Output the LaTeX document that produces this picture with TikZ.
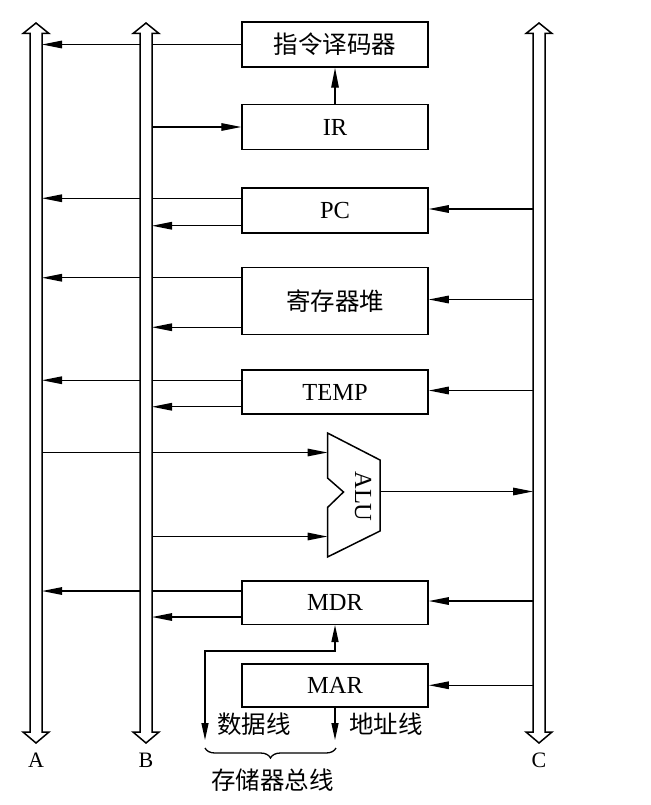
\documentclass[tikz,border=0pt]{standalone}
\usepackage{fontspec}
\setmainfont{Liberation Serif}
\newfontfamily\cjk{Noto Sans CJK SC}
\usetikzlibrary{arrows.meta, positioning, calc, decorations.pathreplacing}
\tikzset{
    reg/.style={rectangle, draw, line width=1.5pt, minimum width=186pt,
        minimum height=45pt, inner sep=0pt, font=\fontsize{24.5}{28}\selectfont},
    lbl/.style={inner sep=1pt, font=\fontsize{24.5}{28}\selectfont},
    arrow/.style={-{Triangle[length=20pt, width=7.5pt]}, line width=1.4pt},
    sarrow/.style={-{Triangle[length=17pt, width=7pt]}, line width=1.4pt},
    darrow/.style={{Triangle[length=17pt, width=7pt]}-{Triangle[length=17pt, width=7pt]}, line width=1.4pt},
    bus/.style={draw, line width=1.5pt, fill=white, line join=miter}
}

\begin{document}
\begin{tikzpicture}[x=1pt, y=-1pt]

    \useasboundingbox (0,0) rectangle (650,805);

    \coordinate (Ar) at (42,0);
    \coordinate (Br) at (152,0);
    \coordinate (Cl) at (533,0);

    \node[reg] (dec) at (335,44.5) {\cjk 指令译码器};
    \node[reg, below=36pt of dec] (ir) {IR};
    \node[reg, below=37pt of ir] (pc) {PC};
    \node[reg, minimum height=67pt, below=33pt of pc] (heap) {\cjk 寄存器堆};
    \node[reg, minimum height=44pt, below=34pt of heap] (temp) {TEMP};
    \node[reg, minimum height=43.5pt] (mdr) at (335,602.5) {MDR};
    \node[reg, minimum height=43pt, below=38pt of mdr] (mar) {MAR};

    \draw[line width=1.5pt, line join=miter] (327.5,433) -- (380,460) -- (380,531) -- (327.5,557)
        -- (327.5,507.5) -- (343.5,492) -- (327.5,478) -- cycle;
    \node[lbl, rotate=-90] (alu) at (363,496.5) {ALU};
    \coordinate (aluin1) at (327.5,452.5);
    \coordinate (aluin2) at (327.5,536.5);
    \coordinate (aluout) at (380,491.5);

    \draw[arrow] (dec.west) -- (dec.west -| Ar);
    \draw[arrow] (ir.west -| Br) -- (ir.west);
    \draw[arrow] (ir.north) -- (dec.south);
    \foreach \r in {pc, heap, temp, mdr} {
        \draw[arrow] ([yshift=-11pt]\r.north west) coordinate (t) -- (t -| Ar);
        \draw[arrow] ([yshift=8pt]\r.south west) coordinate (t) -- (t -| Br);
        \draw[arrow] ([yshift=1.5pt]\r.east -| Cl) coordinate (t) -- (t -| \r.east);
    }
    \draw[arrow] (mar.east -| Cl) -- (mar.east);
    \draw[arrow] (aluin1 -| Ar) -- (aluin1);
    \draw[arrow] (aluin2 -| Br) -- (aluin2);
    \draw[arrow] (aluout) -- (aluout -| Cl);

    \coordinate (dbot) at (205,740);
    \draw[darrow] (dbot) |- ($(mdr.south)+(0,26)$) -- (mdr.south);
    \draw[sarrow] (mar.south) -- (mar.south |- dbot);
    \node[lbl] (dline) at (254,724) {\cjk 数据线};
    \node[lbl] (aline) at (386,724) {\cjk 地址线};

    \coordinate (bl) at (205,748);
    \coordinate (br) at (336,748);
    \draw[line width=1.3pt, decorate, decoration={brace, mirror, amplitude=10pt}] (bl) -- (br);
    \node[lbl] (membus) at (272.5,780) {\cjk 存储器总线};

    \foreach \x/\n in {36/A, 146/B, 539/C} {
        \draw[bus] ({\x-6},33.5) -- ({\x-13},33.5) -- (\x,23) -- ({\x+13},33.5) -- ({\x+6},33.5)
            -- ({\x+6},732) -- ({\x+13},732) -- (\x,743) -- ({\x-13},732) -- ({\x-6},732) -- cycle;
        \node[lbl, font=\fontsize{22}{25}\selectfont] (bus\n) at (\x,760) {\n};
    }

\end{tikzpicture}
\end{document}
